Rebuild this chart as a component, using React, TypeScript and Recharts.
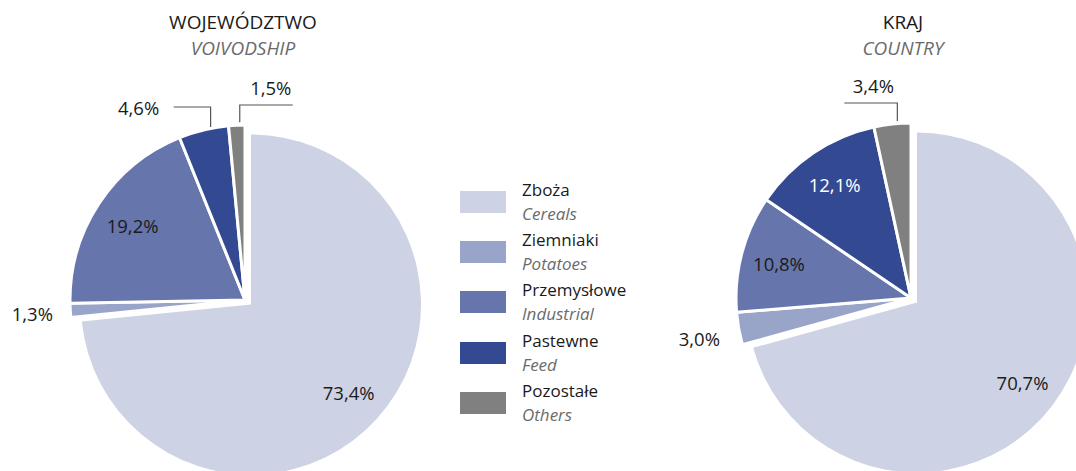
import React from 'react';
import { PieChart, Pie, Cell } from 'recharts';

const categories = ['Zboża', 'Ziemniaki', 'Przemysłowe', 'Pastewne', 'Pozostałe'];
const categoriesEn = ['Cereals', 'Potatoes', 'Industrial', 'Feed', 'Others'];
const voivodshipValues = [73.4, 1.3, 19.2, 4.6, 1.5];
const countryValues = [70.7, 3.0, 10.8, 12.1, 3.4];
const colors = ['#cdd2e4', '#98a5c9', '#6675ab', '#334a92', '#808080'];

const RADIAN = Math.PI / 180;
const FONT = '"Open Sans", "Noto Sans", sans-serif';
const LABEL_SIZE = 18.5;
const fmt = (v: number) => v.toFixed(1).replace('.', ',') + '%';

// how each slice's label is drawn: inside (radius factor), outside (radius) or with a leader line
type LabelKind =
  | { kind: 'in'; r: number; color?: string }
  | { kind: 'out'; r: number; dy?: number }
  | { kind: 'leader'; dir: -1 | 1; shift: number; len: number; text: 'beside' | 'above'; tdx: number; dy?: number };

interface PieBlockProps {
  values: number[];
  cx: number;
  cy: number;
  labels: LabelKind[];
}

const makeRows = (values: number[]) => values.map((v, i) => ({ name: categories[i], value: v }));

const renderLabel = (labels: LabelKind[], cx: number, cy: number, radius: number, only: (i: number) => boolean) => (props: any) => {
  const { midAngle, index, value } = props;
  if (!only(index)) return null;
  const cfg = labels[index];
  const cos = Math.cos(-midAngle * RADIAN);
  const sin = Math.sin(-midAngle * RADIAN);
  if (cfg.kind === 'in' || cfg.kind === 'out') {
    const r = cfg.kind === 'in' ? radius * cfg.r : cfg.r;
    const dy = cfg.kind === 'out' && cfg.dy ? cfg.dy : 0;
    return (
      <text key={`l${index}`} x={cx + r * cos} y={cy + r * sin + dy} textAnchor="middle" dominantBaseline="central"
        fill={cfg.kind === 'in' && cfg.color ? cfg.color : '#1a1a1a'} fontSize={LABEL_SIZE} fontFamily={FONT}>
        {fmt(value)}
      </text>
    );
  }
  const x0 = cx + radius * cos + cfg.shift;
  const y0 = cy + radius * sin;
  const yTop = cy - radius - 20 + (cfg.dy || 0);
  const x1 = x0 + cfg.dir * cfg.len;
  const tx = x0 + cfg.tdx;
  const ty = cfg.text === 'beside' ? yTop : yTop - 18;
  return (
    <g key={`l${index}`}>
      <polyline points={`${x0},${y0 - 3} ${x0},${yTop} ${x1},${yTop}`} fill="none" stroke="#555" strokeWidth={1.2} />
      <text x={tx} y={ty} textAnchor="middle" dominantBaseline="central" fill="#1a1a1a" fontSize={LABEL_SIZE} fontFamily={FONT}>
        {fmt(value)}
      </text>
    </g>
  );
};

const pieSlices = (props: PieBlockProps, key: string) => {
  const { values, cx, cy, labels } = props;
  const rows = makeRows(values);
  const r = 175;
  const rz = 170;
  const zx = cx + 6;
  const zy = cy + 4.5;
  return [
    <Pie key={`${key}-z`} data={rows} dataKey="value" cx={zx} cy={zy} outerRadius={rz} startAngle={90} endAngle={-270}
      isAnimationActive={false} labelLine={false} label={renderLabel(labels, zx, zy, rz, (i) => i === 0)} stroke="none">
      {rows.map((_, i) => <Cell key={i} fill={i === 0 ? colors[0] : 'transparent'} stroke="none" />)}
    </Pie>,
    <Pie key={`${key}-r`} data={rows} dataKey="value" cx={cx} cy={cy} outerRadius={r} startAngle={90} endAngle={-270}
      isAnimationActive={false} labelLine={false} label={renderLabel(labels, cx, cy, r, (i) => i > 0)}>
      {rows.map((_, i) => (
        <Cell key={i} fill={i === 0 ? 'transparent' : colors[i]} stroke={i === 0 ? 'none' : '#ffffff'} strokeWidth={3} />
      ))}
    </Pie>,
  ];
};

const leftLabels: LabelKind[] = [
  { kind: 'in', r: 0.775 },
  { kind: 'out', r: 213, dy: 1 },
  { kind: 'in', r: 0.77 },
  { kind: 'leader', dir: -1, shift: 7, len: 37, text: 'beside', tdx: -72, dy: 2 },
  { kind: 'leader', dir: 1, shift: 3, len: 53, text: 'above', tdx: 31 },
];
const rightLabels: LabelKind[] = [
  { kind: 'in', r: 0.78 },
  { kind: 'out', r: 215, dy: 3 },
  { kind: 'in', r: 0.78 },
  { kind: 'in', r: 0.78, color: '#ffffff' },
  { kind: 'leader', dir: -1, shift: 5, len: 53, text: 'above', tdx: -24 },
];

const Title = ({ x, pl, en }: { x: number; pl: string; en: string }) => (
  <div style={{ position: 'absolute', left: x - 100, top: 9, width: 200, textAlign: 'center', fontFamily: FONT, fontSize: 19, lineHeight: '26px' }}>
    <div style={{ color: '#1a1a1a' }}>{pl}</div>
    <div style={{ color: '#6b6b6b', fontStyle: 'italic' }}>{en}</div>
  </div>
);

const App: React.FC = () => {
  return (
    <div style={{ position: 'absolute', left: 0, top: 0, width: 1076, height: 471, overflow: 'hidden', background: '#fff' }}>
      <PieChart width={1076} height={471} margin={{ top: 0, right: 0, bottom: 0, left: 0 }}>
        {pieSlices({ values: voivodshipValues, cx: 245, cy: 300, labels: leftLabels }, 'woj')}
        {pieSlices({ values: countryValues, cx: 911, cy: 298, labels: rightLabels }, 'kraj')}
      </PieChart>
      <Title x={243} pl="WOJEWÓDZTWO" en="VOIVODSHIP" />
      <Title x={903} pl="KRAJ" en="COUNTRY" />
      <div style={{ position: 'absolute', left: 460, top: 177, fontFamily: FONT, fontSize: 17 }}>
        {categories.map((c, i) => (
          <div key={c} style={{ display: 'flex', alignItems: 'center', height: 50.2 }}>
            <div style={{ width: 46, height: 22, background: colors[i], marginRight: 16 }} />
            <div style={{ lineHeight: '24px' }}>
              <div style={{ color: '#1a1a1a' }}>{c}</div>
              <div style={{ color: '#6b6b6b', fontStyle: 'italic' }}>{categoriesEn[i]}</div>
            </div>
          </div>
        ))}
      </div>
    </div>
  );
};

export default App;
